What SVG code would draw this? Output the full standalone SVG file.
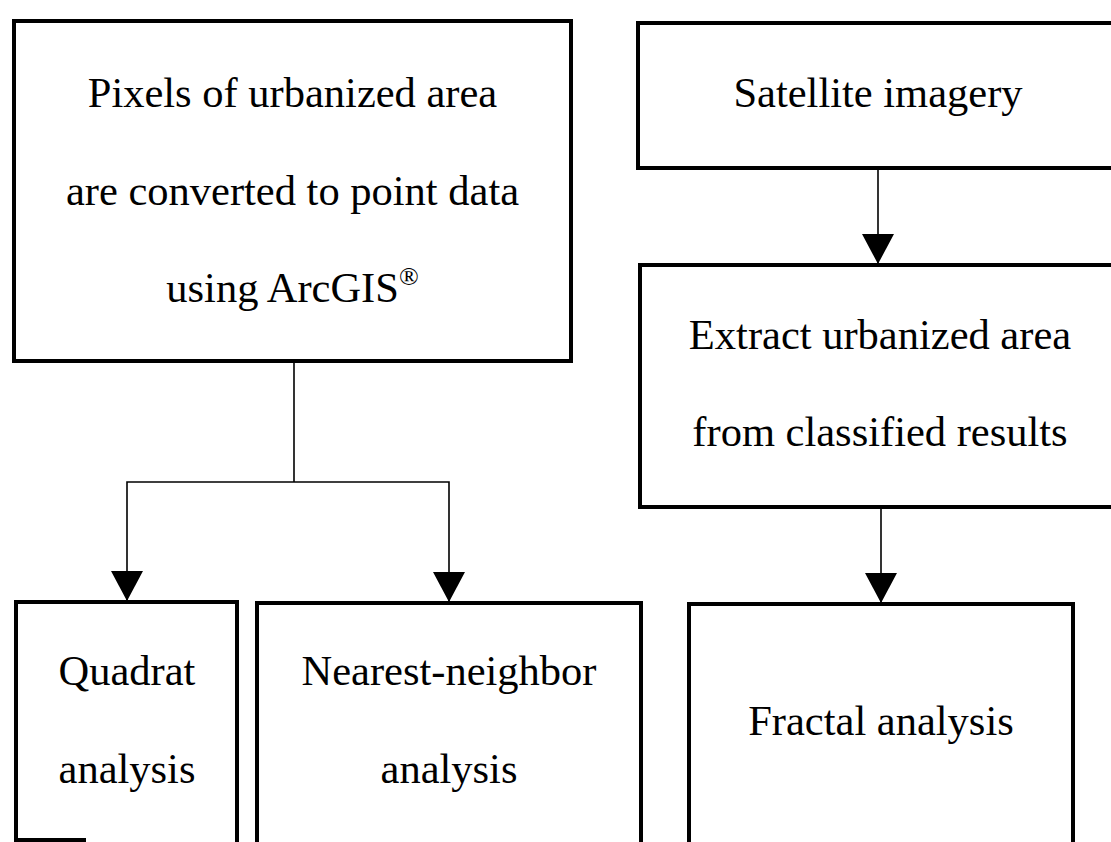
<svg xmlns="http://www.w3.org/2000/svg" width="1111" height="842" viewBox="0 0 1111 842">
  <style>
    .box { fill: #fff; stroke: #000; stroke-width: 4; }
    .edge { stroke: #000; stroke-width: 4; }
    .lbl { font-family: "Liberation Serif", "Times New Roman", serif; font-size: 42.5px; fill: #000; text-anchor: middle; }
    .conn { fill: none; stroke: #000; stroke-width: 1.6; }
  </style>
  <defs>
    <marker id="arrow" markerUnits="userSpaceOnUse" markerWidth="30" markerHeight="32" viewBox="0 0 30 32" refX="30" refY="16" orient="auto">
      <path d="M0,0 L30,16 L0,32 z" fill="#000"/>
    </marker>
  </defs>
  <rect width="1111" height="842" fill="#fff"/>

  <g id="connectors">
    <path class="conn" d="M294,361 V482"/>
    <path class="conn" d="M294,482 H127 V601" marker-end="url(#arrow)"/>
    <path class="conn" d="M294,482 H449 V602" marker-end="url(#arrow)"/>
    <path class="conn" d="M878,168 V264" marker-end="url(#arrow)"/>
    <path class="conn" d="M881,507 V603" marker-end="url(#arrow)"/>
  </g>

  <g id="node-pixels">
    <rect class="box" x="14" y="21" width="557" height="340"/>
    <text class="lbl" x="292.5" y="107">Pixels of urbanized area</text>
    <text class="lbl" x="292.5" y="205">are converted to point data</text>
    <text class="lbl" x="292.5" y="302">using ArcGIS<tspan font-size="26" dy="-17">®</tspan></text>
  </g>

  <g id="node-satellite">
    <rect class="box" x="638" y="23" width="490" height="145"/>
    <text class="lbl" x="878" y="107">Satellite imagery</text>
  </g>

  <g id="node-extract">
    <rect class="box" x="640" y="265" width="490" height="242"/>
    <text class="lbl" x="880" y="349">Extract urbanized area</text>
    <text class="lbl" x="880" y="446">from classified results</text>
  </g>

  <g id="node-quadrat">
    <rect class="box" x="16" y="602" width="221" height="300"/>
    <line class="edge" x1="16" y1="840" x2="86" y2="840"/>
    <text class="lbl" x="127" y="685">Quadrat</text>
    <text class="lbl" x="127" y="783">analysis</text>
  </g>

  <g id="node-nearest">
    <rect class="box" x="257" y="603" width="384" height="300"/>
    <text class="lbl" x="449" y="685">Nearest-neighbor</text>
    <text class="lbl" x="449" y="783">analysis</text>
  </g>

  <g id="node-fractal">
    <rect class="box" x="689" y="604" width="384" height="300"/>
    <text class="lbl" x="881" y="735">Fractal analysis</text>
  </g>
</svg>
